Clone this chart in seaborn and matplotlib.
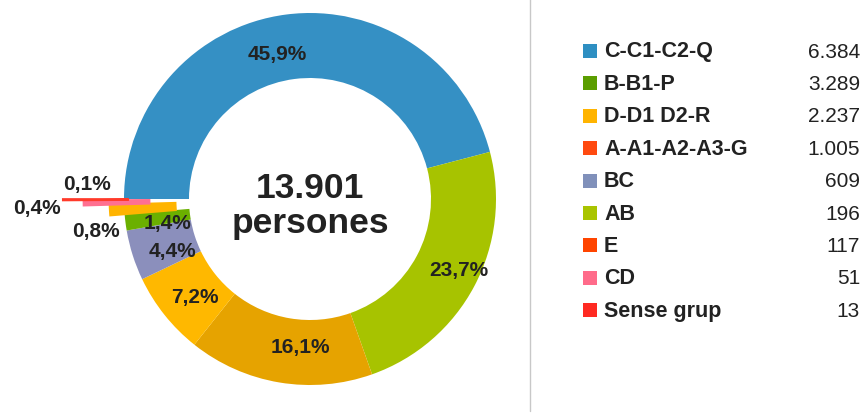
import matplotlib
matplotlib.use('Agg')
import matplotlib.pyplot as plt
from matplotlib.patches import Rectangle
import seaborn as sns
import numpy as np

sns.set_theme(style='white')
plt.rcParams['font.family'] = ['Liberation Sans', 'DejaVu Sans']

# data
categories = ['C-C1-C2-Q', 'B-B1-P', 'D-D1 D2-R', 'A-A1-A2-A3-G', 'BC', 'AB', 'E', 'CD', 'Sense grup']
counts = [6384, 3289, 2237, 1005, 609, 196, 117, 51, 13]
legend_colors = ['#2e8fc2', '#5b9e00', '#ffb400', '#ff4a10', '#8090ba', '#a9c400', '#ff4400', '#ff6b8a', '#ff2a22']
ring_colors = ['#3590c4', '#a7c300', '#e6a300', '#ffb800', '#8b8fbc', '#6bb000', '#ffb400', '#ff7090', '#ff3a2a']
center_label = 'persones'

total = sum(counts)
pcts = [100 * c / total for c in counts]

# styling: slivers pulled out to the left, label nudges (deg, radius px)
explode = [0, 0, 0, 0, 0, 0, 14, 40, 61]
edge_lw = [0, 0, 0, 0, 0, 0, 2.0, 2.0, 1.5]
label_dang = [5.4, 2.6, 5.6, 1.5, 3.0, 2.0]
label_rad = [149, 165, 148, 151, 147, 144]
outside = {6: (-1.15, -0.167), 7: (-1.47, -0.048), 8: (-1.20, 0.086)}

fig = plt.figure(figsize=(8.64, 4.14), dpi=100)
ax = fig.add_axes([0, 0, 1, 1])

cx, cy, R, ring_w = 310, 214, 186, 65
wedges, _ = ax.pie(counts, colors=ring_colors, startangle=180, counterclock=False,
                   center=(cx, cy), radius=R, explode=explode,
                   wedgeprops=dict(width=ring_w, linewidth=0))
for w, lw in zip(wedges, edge_lw):
    if lw:
        w.set_edgecolor(w.get_facecolor())
        w.set_linewidth(lw)
ax.set_xlim(0, 864)
ax.set_ylim(0, 414)
ax.set_aspect('equal')
ax.axis('off')

# percent labels
for i, (w, p) in enumerate(zip(wedges, pcts)):
    txt = f"{p:.1f}%".replace('.', ',')
    if i in outside:
        ox, oy = outside[i]
        x, y = cx + ox * R, cy + oy * R
    else:
        ang = np.deg2rad((w.theta1 + w.theta2) / 2 + label_dang[i])
        r = label_rad[i]
        x, y = cx + r * np.cos(ang), cy + r * np.sin(ang)
    ax.text(x, y, txt, ha='center', va='center', fontsize=15,
            fontweight='bold', color='#222222')

# centre total
ax.text(cx, cy + 11, f"{total:,}".replace(',', '.'), ha='center', va='center',
        fontsize=25.5, fontweight='bold', color='#222222')
ax.text(cx, cy - 24, center_label, ha='center', va='center',
        fontsize=25.5, fontweight='bold', color='#222222')

# separator
ax.plot([530, 530], [2, 414], color='#c8c8c8', lw=1)

# legend
y0, step = 414 - 52, 32.4
for i, (cat, val, col) in enumerate(zip(categories, counts, legend_colors)):
    y = y0 - i * step
    ax.add_patch(Rectangle((583, y - 7), 14, 14, color=col, lw=0))
    ax.text(604, y, cat, ha='left', va='center', fontsize=15.5,
            fontweight='bold', color='#222222')
    ax.text(860, y, f"{val:,}".replace(',', '.'), ha='right', va='center',
            fontsize=15, color='#222222')

fig.savefig('out.png', dpi=100)
